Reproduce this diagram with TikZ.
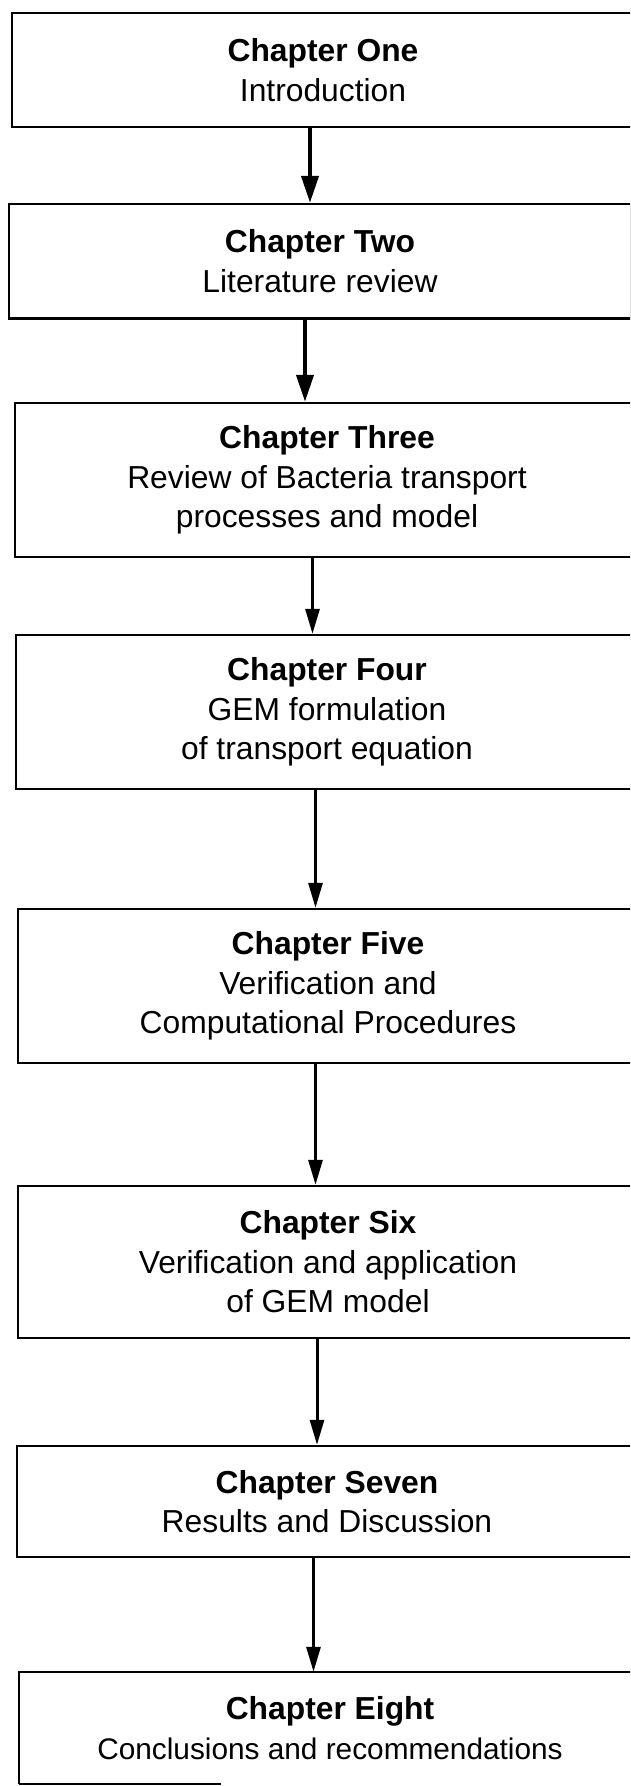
\documentclass[tikz,border=0pt]{standalone}
\usepackage{fontspec}
\setmainfont{Liberation Sans}
\usetikzlibrary{arrows.meta}

\begin{document}
\begin{tikzpicture}[x=1pt,y=-1pt,
  chap/.style={draw=black, line width=2.4pt, rectangle, inner sep=0pt,
    align=center, font=\fontsize{31.8}{39.5}\selectfont},
  chapopen/.style={chap, draw=none},
  frame/.style={line width=2.4pt},
  link/.style={line width=3pt, -{Triangle[length=25pt,width=14pt]}},
  heavylink/.style={line width=4pt, -{Triangle[length=27pt,width=17pt]}},
]
\useasboundingbox (0,0) rectangle (630,1786);
\fill[white] (0,0) rectangle (630,1786);
\clip (0,0) rectangle (630,1786);

% chapter boxes (they run past the right margin)
\node[chap, minimum width=622pt, minimum height=114pt] (b1) at (323,70)
  {\textbf{Chapter One}\\Introduction};
\node[chap, minimum width=622pt, minimum height=114.5pt] (b2) at (320,261.25)
  {\textbf{Chapter Two}\\Literature review};
\node[chap, minimum width=624pt, minimum height=154pt] (b3) at (327,480)
  {\textbf{Chapter Three}\\Review of Bacteria transport\\processes and model};
\node[chap, minimum width=622pt, minimum height=154pt] (b4) at (327,712)
  {\textbf{Chapter Four}\\GEM formulation\\of transport equation};
\node[chap, minimum width=620pt, minimum height=154pt] (b5) at (328,986)
  {\textbf{Chapter Five}\\Verification and\\Computational Procedures};
\node[chap, minimum width=620pt, minimum height=152pt] (b6) at (328,1262)
  {\textbf{Chapter Six}\\Verification and application\\of GEM model};
\node[chap, minimum width=620pt, minimum height=111pt] (b7) at (327,1501.5)
  {\textbf{Chapter Seven}\\Results and Discussion};
\node[chapopen, minimum width=620pt, minimum height=110pt] (b8) at (330,1728)
  {\textbf{Chapter Eight}\\{\fontsize{29.8}{39.5}\selectfont Conclusions and recommendations}};

% last box: bottom edge only survives on the left
\coordinate (cut) at (221,0);
\draw[frame] (b8.south west) -- (b8.north west) -- (b8.north east) -- (b8.south east);
\draw[frame] (b8.south west) -- (b8.south west -| cut);

% arrow columns
\coordinate (a1) at (310,0);
\coordinate (a2) at (305,0);
\coordinate (a3) at (312.5,0);
\coordinate (a4) at (315.5,0);
\coordinate (a5) at (315.5,0);
\coordinate (a6) at (317,0);
\coordinate (a7) at (313.5,0);

\draw[heavylink] (b1.south -| a1) -- (b2.north -| a1);
\draw[heavylink] (b2.south -| a2) -- (b3.north -| a2);
\draw[link] (b3.south -| a3) -- (b4.north -| a3);
\draw[link] (b4.south -| a4) -- (b5.north -| a4);
\draw[link] (b5.south -| a5) -- (b6.north -| a5);
\draw[link] (b6.south -| a6) -- (b7.north -| a6);
\draw[link] (b7.south -| a7) -- (b8.north -| a7);
\end{tikzpicture}
\end{document}
